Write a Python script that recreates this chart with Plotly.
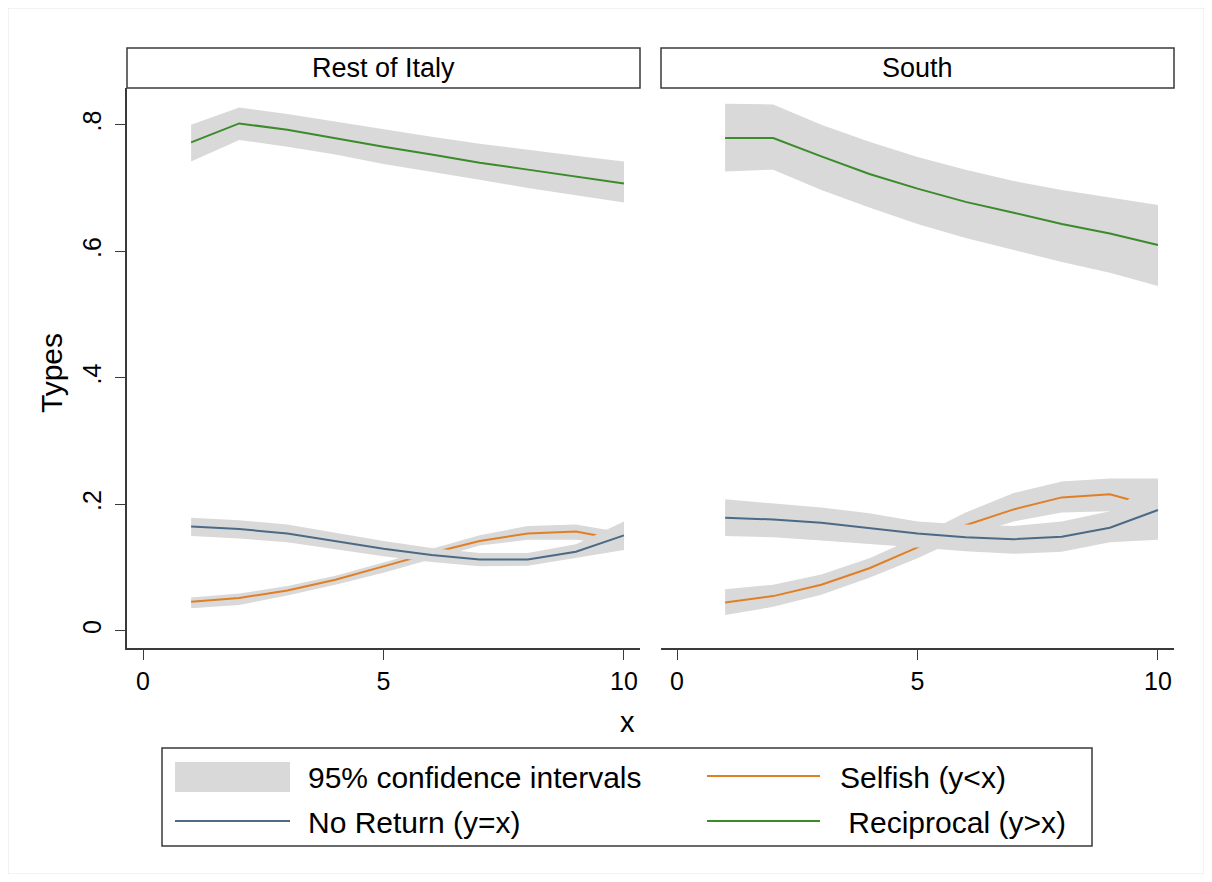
import plotly.graph_objects as go

# ---- data ----
x = [1, 2, 3, 4, 5, 6, 7, 8, 9, 10]

rest_selfish = [0.046, 0.052, 0.064, 0.081, 0.102, 0.123, 0.142, 0.154, 0.157, 0.143]
rest_selfish_lo = [0.036, 0.041, 0.056, 0.073, 0.092, 0.114, 0.135, 0.144, 0.144, 0.135]
rest_selfish_hi = [0.053, 0.059, 0.071, 0.087, 0.108, 0.129, 0.151, 0.166, 0.168, 0.155]

rest_noreturn = [0.165, 0.161, 0.154, 0.142, 0.130, 0.120, 0.113, 0.113, 0.125, 0.151]
rest_noreturn_lo = [0.150, 0.146, 0.140, 0.129, 0.118, 0.109, 0.102, 0.103, 0.115, 0.128]
rest_noreturn_hi = [0.179, 0.175, 0.168, 0.155, 0.142, 0.131, 0.123, 0.123, 0.137, 0.173]

rest_recip = [0.772, 0.802, 0.792, 0.778, 0.765, 0.753, 0.740, 0.729, 0.718, 0.707]
rest_recip_lo = [0.742, 0.776, 0.765, 0.753, 0.738, 0.726, 0.713, 0.700, 0.688, 0.677]
rest_recip_hi = [0.800, 0.827, 0.817, 0.805, 0.792, 0.781, 0.770, 0.760, 0.751, 0.742]

south_selfish = [0.045, 0.055, 0.073, 0.099, 0.132, 0.167, 0.192, 0.211, 0.216, 0.195]
south_selfish_lo = [0.025, 0.038, 0.057, 0.084, 0.115, 0.150, 0.173, 0.187, 0.189, 0.160]
south_selfish_hi = [0.066, 0.073, 0.089, 0.115, 0.149, 0.187, 0.218, 0.236, 0.241, 0.241]

south_noreturn = [0.179, 0.176, 0.171, 0.163, 0.154, 0.148, 0.145, 0.149, 0.163, 0.191]
south_noreturn_lo = [0.150, 0.148, 0.143, 0.138, 0.132, 0.126, 0.122, 0.125, 0.140, 0.144]
south_noreturn_hi = [0.208, 0.202, 0.195, 0.186, 0.173, 0.168, 0.166, 0.173, 0.189, 0.238]

south_recip = [0.779, 0.779, 0.750, 0.722, 0.699, 0.678, 0.661, 0.643, 0.628, 0.610]
south_recip_lo = [0.726, 0.729, 0.697, 0.669, 0.643, 0.621, 0.602, 0.583, 0.566, 0.545]
south_recip_hi = [0.833, 0.832, 0.800, 0.773, 0.749, 0.729, 0.711, 0.697, 0.685, 0.673]

panels = ["Rest of Italy", "South"]
y_ticks = [0, 0.2, 0.4, 0.6, 0.8]
y_tick_labels = ["0", ".2", ".4", ".6", ".8"]
x_ticks = [0, 5, 10]
legend_labels = ["95% confidence intervals", "Selfish (y<x)", "No Return (y=x)", "&nbsp;Reciprocal (y>x)"]

# ---- style ----
# page body has an 8px margin, so the figure is drawn 8px in from the window edge
OFF = 8
W, H = 1212 - 2 * OFF, 882 - 2 * OFF
FONT = "Liberation Sans, Arial, Helvetica, sans-serif"
CI_GRAY = "#d9d9d9"
ORANGE = "#e07f26"
SLATE = "#4b6a86"
GREEN = "#3b8a2b"
AXIS = "#3a3a3a"


def px(p):
    # window pixel -> paper fraction
    return (p - OFF) / W


def py(p):
    return 1 - (p - OFF) / H


series = {
    "Rest of Italy": [
        (rest_selfish_lo, rest_selfish_hi, rest_selfish, ORANGE),
        (rest_noreturn_lo, rest_noreturn_hi, rest_noreturn, SLATE),
        (rest_recip_lo, rest_recip_hi, rest_recip, GREEN),
    ],
    "South": [
        (south_selfish_lo, south_selfish_hi, south_selfish, ORANGE),
        (south_noreturn_lo, south_noreturn_hi, south_noreturn, SLATE),
        (south_recip_lo, south_recip_hi, south_recip, GREEN),
    ],
}

fig = go.Figure()

for i, name in enumerate(panels):
    xa = "x" if i == 0 else "x2"
    ya = "y" if i == 0 else "y2"
    for lo, hi, mid, col in series[name]:
        fig.add_trace(go.Scatter(x=x, y=lo, mode="lines", line=dict(width=0),
                                 xaxis=xa, yaxis=ya, showlegend=False, hoverinfo="skip"))
        fig.add_trace(go.Scatter(x=x, y=hi, mode="lines", line=dict(width=0),
                                 fill="tonexty", fillcolor=CI_GRAY,
                                 xaxis=xa, yaxis=ya, showlegend=False, hoverinfo="skip"))
        fig.add_trace(go.Scatter(x=x, y=mid, mode="lines", line=dict(color=col, width=2),
                                 xaxis=xa, yaxis=ya, showlegend=False))

x_dom = [[px(127), px(640)], [px(661), px(1174)]]
y_dom = [py(648), py(88)]

common_x = dict(range=[-0.333, 10.333], tickvals=x_ticks, ticks="outside", ticklen=10,
                tickcolor=AXIS, tickwidth=1.3, showline=True, linecolor=AXIS, linewidth=1.5,
                showgrid=False, zeroline=False, tickfont=dict(size=25, color="black"))
fig.update_layout(
    xaxis=dict(domain=x_dom[0], anchor="y", **common_x),
    xaxis2=dict(domain=x_dom[1], anchor="y2", **common_x),
    yaxis=dict(domain=y_dom, range=[-0.027, 0.858], tickvals=y_ticks, ticktext=y_tick_labels,
               tickangle=-90, ticks="outside", ticklen=10, tickcolor=AXIS, tickwidth=1.3,
               ticklabelstandoff=4,
               showline=True, linecolor=AXIS, linewidth=1.5, showgrid=False, zeroline=False,
               tickfont=dict(size=25, color="black"), anchor="x"),
    yaxis2=dict(domain=y_dom, range=[-0.027, 0.858], showticklabels=False, ticks="",
                showline=False, showgrid=False, zeroline=False, anchor="x2"),
)

shapes = []
annotations = []


def label(text, x, y, size, xanchor="center", angle=0):
    annotations.append(dict(text=text, xref="paper", yref="paper", x=px(x), y=py(y),
                            xanchor=xanchor, yanchor="middle", textangle=angle,
                            showarrow=False, font=dict(size=size, color="black")))


# facet strips
for (x0, x1), name in zip([(127, 640), (661, 1174)], panels):
    shapes.append(dict(type="rect", xref="paper", yref="paper", x0=px(x0), x1=px(x1),
                       y0=py(88), y1=py(48), line=dict(color=AXIS, width=1.5), fillcolor="white"))
    label(name, (x0 + x1) / 2, 68, 27)

# axis titles
label("Types", 51, 373, 30, angle=-90)
label("x", 627, 722, 29)

# legend box
shapes.append(dict(type="rect", xref="paper", yref="paper", x0=px(162), x1=px(1092),
                   y0=py(846), y1=py(748), line=dict(color=AXIS, width=1.5)))
shapes.append(dict(type="rect", xref="paper", yref="paper", x0=px(175), x1=px(290),
                   y0=py(792), y1=py(762), line=dict(width=0), fillcolor=CI_GRAY))
for (x0, x1, yy, col) in [(707, 820, 776, ORANGE), (175, 290, 821, SLATE), (707, 820, 821, GREEN)]:
    shapes.append(dict(type="line", xref="paper", yref="paper", x0=px(x0), x1=px(x1),
                       y0=py(yy), y1=py(yy), line=dict(color=col, width=2)))
for text, (tx, ty) in zip(legend_labels, [(306, 777), (838, 777), (306, 822), (838, 822)]):
    label(text, tx, ty, 30, xanchor="left")

# faint outer frame
shapes.append(dict(type="rect", xref="paper", yref="paper", x0=0, x1=1, y0=0, y1=1,
                   line=dict(color="#e6e6e6", width=1)))

fig.update_layout(
    width=W, height=H,
    margin=dict(l=0, r=0, t=0, b=0),
    paper_bgcolor="white", plot_bgcolor="white",
    font=dict(family=FONT, color="black"),
    showlegend=False,
    shapes=shapes, annotations=annotations,
)

fig.write_html("out.html")
